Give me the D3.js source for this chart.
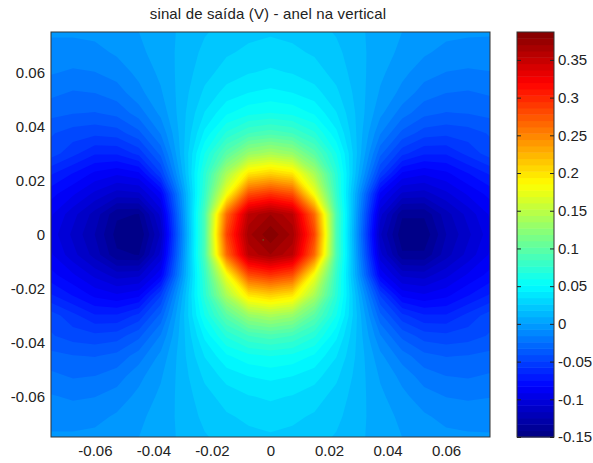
<!DOCTYPE html>
<html>
<head>
	<meta charset="UTF-8">
	<title>sinal de saida</title>
	<script src="https://d3js.org/d3.v7.min.js"></script>
	<style>
		html, body { margin: 0; padding: 0; background: #fff; }
		svg { display: block; }
		text { font-family: "Liberation Sans", Arial, sans-serif; fill: #222; }
		.domain { display: none; }
		.tick line { stroke: #222; }
	</style>
</head>
<body>
	<script>
		// Values, columns from x=-0.075 to 0.075, rows from y=0.075 to -0.075
		var xGrid = [-0.075, -0.0675, -0.06, -0.0525, -0.045, -0.0375, -0.03, -0.0225, -0.015, -0.0075, 0, 0.0075, 0.015, 0.0225, 0.03, 0.0375, 0.045, 0.0525, 0.06, 0.0675, 0.075];
		var yGrid = [0.075, 0.0675, 0.06, 0.0525, 0.045, 0.0375, 0.03, 0.0225, 0.015, 0.0075, 0, -0.0075, -0.015, -0.0225, -0.03, -0.0375, -0.045, -0.0525, -0.06, -0.0675, -0.075];
		var field = [
			[-0.006,-0.006,-0.005,-0.003,0.001,0.006,0.011,0.017,0.021,0.024,0.025,0.024,0.021,0.017,0.011,0.006,0.001,-0.003,-0.005,-0.006,-0.006],
			[-0.011,-0.011,-0.010,-0.006,-0.001,0.005,0.012,0.020,0.025,0.028,0.030,0.028,0.025,0.020,0.012,0.005,-0.001,-0.006,-0.010,-0.011,-0.012],
			[-0.015,-0.017,-0.016,-0.012,-0.005,0.003,0.013,0.023,0.030,0.034,0.036,0.034,0.030,0.023,0.013,0.003,-0.005,-0.012,-0.016,-0.017,-0.016],
			[-0.022,-0.025,-0.024,-0.020,-0.010,0.000,0.014,0.028,0.038,0.043,0.045,0.043,0.038,0.028,0.014,0.000,-0.010,-0.020,-0.024,-0.025,-0.023],
			[-0.030,-0.032,-0.033,-0.030,-0.020,-0.005,0.015,0.035,0.050,0.057,0.060,0.057,0.050,0.035,0.015,-0.005,-0.020,-0.030,-0.033,-0.032,-0.030],
			[-0.040,-0.045,-0.047,-0.045,-0.035,-0.015,0.015,0.045,0.070,0.085,0.090,0.085,0.070,0.045,0.015,-0.015,-0.035,-0.045,-0.047,-0.045,-0.040],
			[-0.045,-0.055,-0.065,-0.065,-0.055,-0.030,0.015,0.060,0.098,0.130,0.140,0.130,0.098,0.060,0.015,-0.030,-0.055,-0.065,-0.065,-0.055,-0.045],
			[-0.065,-0.075,-0.085,-0.090,-0.085,-0.050,0.010,0.072,0.140,0.198,0.210,0.198,0.140,0.072,0.010,-0.050,-0.085,-0.090,-0.085,-0.075,-0.065],
			[-0.080,-0.090,-0.102,-0.112,-0.110,-0.085,-0.002,0.078,0.180,0.280,0.295,0.280,0.180,0.078,-0.002,-0.085,-0.110,-0.112,-0.102,-0.090,-0.080],
			[-0.090,-0.105,-0.120,-0.140,-0.142,-0.105,-0.008,0.090,0.265,0.355,0.370,0.355,0.265,0.090,-0.008,-0.105,-0.140,-0.140,-0.120,-0.105,-0.090],
			[-0.095,-0.110,-0.125,-0.145,-0.150,-0.115,-0.012,0.090,0.285,0.368,0.385,0.368,0.285,0.090,-0.012,-0.115,-0.148,-0.148,-0.125,-0.110,-0.095],
			[-0.090,-0.105,-0.120,-0.140,-0.142,-0.105,-0.008,0.090,0.265,0.355,0.370,0.355,0.265,0.090,-0.008,-0.105,-0.140,-0.140,-0.120,-0.105,-0.090],
			[-0.080,-0.090,-0.102,-0.112,-0.110,-0.085,-0.002,0.078,0.180,0.280,0.295,0.280,0.180,0.078,-0.002,-0.085,-0.110,-0.112,-0.102,-0.090,-0.080],
			[-0.065,-0.075,-0.085,-0.090,-0.085,-0.050,0.010,0.072,0.140,0.198,0.210,0.198,0.140,0.072,0.010,-0.050,-0.085,-0.090,-0.085,-0.075,-0.065],
			[-0.045,-0.055,-0.065,-0.065,-0.055,-0.030,0.015,0.060,0.098,0.130,0.140,0.130,0.098,0.060,0.015,-0.030,-0.055,-0.065,-0.065,-0.055,-0.045],
			[-0.040,-0.045,-0.047,-0.045,-0.035,-0.015,0.015,0.045,0.070,0.085,0.090,0.085,0.070,0.045,0.015,-0.015,-0.035,-0.045,-0.047,-0.045,-0.040],
			[-0.030,-0.032,-0.033,-0.030,-0.020,-0.005,0.015,0.035,0.050,0.057,0.060,0.057,0.050,0.035,0.015,-0.005,-0.020,-0.030,-0.033,-0.032,-0.030],
			[-0.022,-0.025,-0.024,-0.020,-0.010,0.000,0.014,0.028,0.038,0.043,0.045,0.043,0.038,0.028,0.014,0.000,-0.010,-0.020,-0.024,-0.025,-0.023],
			[-0.015,-0.017,-0.016,-0.012,-0.005,0.003,0.013,0.023,0.030,0.034,0.036,0.034,0.030,0.023,0.013,0.003,-0.005,-0.012,-0.016,-0.017,-0.016],
			[-0.011,-0.011,-0.010,-0.006,-0.001,0.005,0.012,0.020,0.025,0.028,0.030,0.028,0.025,0.020,0.012,0.005,-0.001,-0.006,-0.010,-0.011,-0.012],
			[-0.006,-0.006,-0.005,-0.003,0.001,0.006,0.011,0.017,0.021,0.024,0.025,0.024,0.021,0.017,0.011,0.006,0.001,-0.003,-0.005,-0.006,-0.006]
		];
		var speckX = [-0.0025];
		var speckY = [-0.002];
		var xTicks = [-0.06, -0.04, -0.02, 0, 0.02, 0.04, 0.06];
		var yTicks = [-0.06, -0.04, -0.02, 0, 0.02, 0.04, 0.06];
		var cTicks = [-0.15, -0.1, -0.05, 0, 0.05, 0.1, 0.15, 0.2, 0.25, 0.3, 0.35];
		var cRange = [-0.15, 0.387];
		var titleText = "sinal de saída (V) - anel na vertical";
		var jetStops = ["#000080", "#0000ff", "#0080ff", "#00ffff", "#80ff80", "#ffff00", "#ff8000", "#ff0000", "#800000"];
		var nLevels = 64;

		var width = 593, height = 463;
		var plot = {left: 51, right: 490, top: 32, bottom: 437};
		var bar = {left: 517, right: 554};

		var svg = d3.select("body").append("svg")
			.attr("width", width)
			.attr("height", height);

		var x = d3.scaleLinear().domain([-0.075, 0.075]).range([plot.left, plot.right]);
		var y = d3.scaleLinear().domain([-0.075, 0.075]).range([plot.bottom, plot.top]);
		var c = d3.scaleLinear().domain(cRange).range([plot.bottom, plot.top]);

		// jet colormap in 64 flat steps, like the matlab one
		var jet = d3.scaleLinear()
			.domain(jetStops.map(function(d, i) { return i / (jetStops.length - 1); }))
			.range(jetStops)
			.interpolate(d3.interpolateRgb);
		var levels = d3.range(nLevels).map(function(i) {
			return {
				lo: cRange[0] + i * (cRange[1] - cRange[0]) / nLevels,
				hi: cRange[0] + (i + 1) * (cRange[1] - cRange[0]) / nLevels,
				color: jet((i + 0.5) / nLevels)
			};
		});

		// Contour bands from the grid
		var contours = d3.contours()
			.size([xGrid.length, yGrid.length])
			.smooth(true)
			.thresholds(levels.map(function(d) { return d.lo; }));
		var bands = contours(d3.merge(field));

		svg.append("clipPath").attr("id", "plot-clip").append("rect")
			.attr("x", plot.left).attr("y", plot.top)
			.attr("width", plot.right - plot.left).attr("height", plot.bottom - plot.top);

		// grid cell u sits at xGrid[u - 0.5]
		var gx = d3.scaleLinear().domain([0.5, xGrid.length - 0.5]).range([x(xGrid[0]), x(xGrid[xGrid.length - 1])]);
		var gy = d3.scaleLinear().domain([0.5, yGrid.length - 0.5]).range([y(yGrid[0]), y(yGrid[yGrid.length - 1])]);
		var path = d3.geoPath(d3.geoTransform({
			point: function(u, v) { this.stream.point(gx(u), gy(v)); }
		}));

		var fieldGroup = svg.append("g").attr("clip-path", "url(#plot-clip)");
		fieldGroup.append("rect")
			.attr("x", plot.left).attr("y", plot.top)
			.attr("width", plot.right - plot.left).attr("height", plot.bottom - plot.top)
			.attr("fill", levels[0].color);
		fieldGroup.selectAll("path")
			.data(bands)
			.enter().append("path")
			.attr("d", path)
			.attr("fill", function(d, i) { return levels[i].color; });

		// the little green speck near the centre
		fieldGroup.selectAll(".speck")
			.data(speckX)
			.enter().append("circle")
			.attr("class", "speck")
			.attr("cx", function(d) { return x(d); })
			.attr("cy", function(d, i) { return y(speckY[i]); })
			.attr("r", 0.7)
			.attr("fill", "#5a7a30");

		svg.append("rect")
			.attr("x", plot.left).attr("y", plot.top)
			.attr("width", plot.right - plot.left).attr("height", plot.bottom - plot.top)
			.attr("fill", "none").attr("stroke", "#333").attr("stroke-width", 1);

		// Colorbar
		svg.selectAll(".level")
			.data(levels)
			.enter().append("rect")
			.attr("class", "level")
			.attr("x", bar.left)
			.attr("width", bar.right - bar.left)
			.attr("y", function(d) { return c(d.hi); })
			.attr("height", function(d) { return c(d.lo) - c(d.hi) + 0.5; })
			.attr("fill", function(d) { return d.color; });

		svg.append("rect")
			.attr("x", bar.left).attr("y", plot.top)
			.attr("width", bar.right - bar.left).attr("height", plot.bottom - plot.top)
			.attr("fill", "none").attr("stroke", "#333").attr("stroke-width", 1);

		// Axes
		var xAxis = d3.axisBottom(x).tickValues(xTicks).tickFormat(String).tickSize(0).tickPadding(8);
		var yAxis = d3.axisLeft(y).tickValues(yTicks).tickFormat(String).tickSize(0).tickPadding(6);
		var cAxis = d3.axisRight(c).tickValues(cTicks).tickFormat(String).tickSizeOuter(0).tickSizeInner(-4).tickPadding(4);
		var cAxisLeft = d3.axisLeft(c).tickValues(cTicks).tickFormat("").tickSizeOuter(0).tickSizeInner(-4);

		svg.append("g").attr("transform", "translate(0," + plot.bottom + ")").call(xAxis);
		svg.append("g").attr("transform", "translate(" + plot.left + ",0)").call(yAxis);
		svg.append("g").attr("transform", "translate(" + bar.right + ",0)").call(cAxis);
		svg.append("g").attr("transform", "translate(" + bar.left + ",0)").call(cAxisLeft);
		svg.selectAll(".tick text").attr("font-size", 15).style("font-family", "'Liberation Sans', Arial, sans-serif").attr("fill", "#222");

		svg.append("text")
			.attr("x", 268)
			.attr("y", 19)
			.attr("text-anchor", "middle")
			.attr("font-size", 15)
			.attr("letter-spacing", 0.15)
			.text(titleText);
	</script>
</body>
</html>
